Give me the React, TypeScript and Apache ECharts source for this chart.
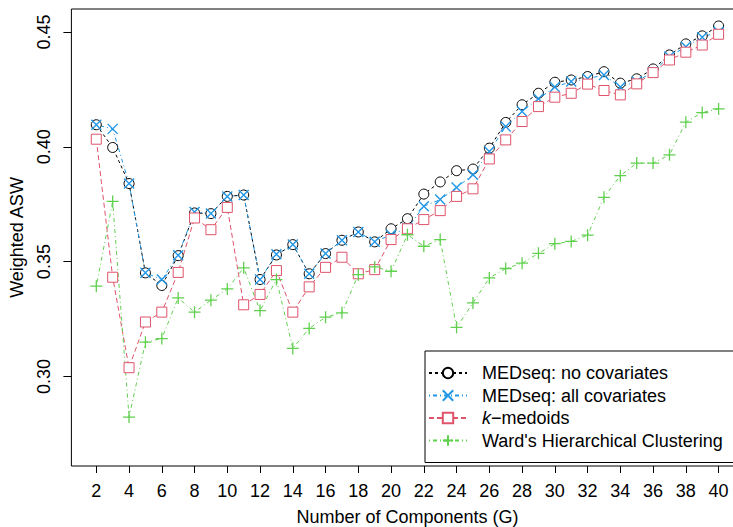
import React, { useEffect, useRef } from "react";
import * as echarts from "echarts";

// Number of components G
const components = [
  2, 3, 4, 5, 6, 7, 8, 9, 10, 11, 12, 13, 14, 15, 16, 17, 18, 19, 20, 21,
  22, 23, 24, 25, 26, 27, 28, 29, 30, 31, 32, 33, 34, 35, 36, 37, 38, 39, 40,
];
const xTicks = [2, 4, 6, 8, 10, 12, 14, 16, 18, 20, 22, 24, 26, 28, 30, 32, 34, 36, 38, 40];
const yTicks = [0.3, 0.35, 0.4, 0.45];

const seriesNames = [
  "MEDseq: no covariates",
  "MEDseq: all covariates",
  "k\u2212medoids",
  "Ward's Hierarchical Clustering",
];

const noCovariates = [
  0.4096, 0.3997, 0.384, 0.3451, 0.3396, 0.3526, 0.3712, 0.3709, 0.3784,
  0.379, 0.3422, 0.3529, 0.3574, 0.3447, 0.3535, 0.3593, 0.3629, 0.3586, 0.3643,
  0.3687, 0.3794, 0.3847, 0.3896, 0.3903, 0.3994, 0.4106, 0.4183, 0.4233, 0.4281,
  0.4291, 0.4306, 0.4327, 0.4277, 0.4296, 0.4339, 0.44, 0.4448, 0.4483, 0.4526,
];
const allCovariates = [
  0.4096, 0.4078, 0.384, 0.3451, 0.3422, 0.3528, 0.3716, 0.3709, 0.3784,
  0.379, 0.3422, 0.3532, 0.3574, 0.3447, 0.3535, 0.3593, 0.3629, 0.3586, 0.3617,
  0.3646, 0.3741, 0.377, 0.3823, 0.3878, 0.398, 0.4088, 0.4154, 0.4209, 0.426,
  0.4284, 0.4296, 0.4313, 0.426, 0.4284, 0.4327, 0.4393, 0.4436, 0.4477, 0.4501,
];
const kMedoids = [
  0.4033, 0.3432, 0.3038, 0.3237, 0.328, 0.3453, 0.369, 0.3639, 0.3736,
  0.3312, 0.3357, 0.3461, 0.328, 0.339, 0.3475, 0.3519, 0.3447, 0.3465, 0.3596,
  0.3643, 0.3683, 0.3722, 0.3784, 0.3817, 0.3947, 0.403, 0.411, 0.4175, 0.4216,
  0.4233, 0.4273, 0.4245, 0.4226, 0.4274, 0.4323, 0.4378, 0.4412, 0.4443, 0.449,
];
const ward = [
  0.3393, 0.3762, 0.2823, 0.3149, 0.3165, 0.3342, 0.328, 0.3332, 0.3381,
  0.3473, 0.3287, 0.3422, 0.3122, 0.3209, 0.3258, 0.3277, 0.3443, 0.3477, 0.3458,
  0.3617, 0.3567, 0.3596, 0.3214, 0.332, 0.3429, 0.347, 0.3493, 0.3536, 0.3578,
  0.3588, 0.3615, 0.378, 0.3874, 0.3929, 0.3929, 0.3965, 0.4107, 0.4149, 0.4165,
];

const FONT = "'Liberation Sans', Arial, Helvetica, sans-serif";

export default function App() {
  const ref = useRef<HTMLDivElement>(null);

  useEffect(() => {
    if (!ref.current) return;
    const chart = echarts.init(ref.current, null, { renderer: "svg" });

    const mk = (
      name: string,
      values: number[],
      color: string,
      symbol: string,
      symbolSize: number,
      dash: number[],
      fill: string,
      strokeWidth: number
    ) => ({
      name,
      type: "line",
      data: components.map((g, i) => [g, values[i]]),
      symbol,
      symbolSize,
      showSymbol: true,
      lineStyle: { color, width: 1, type: dash },
      itemStyle: { color: fill, borderColor: color, borderWidth: strokeWidth },
      emphasis: { disabled: true },
      z: 3,
    });

    const xPath = "path://M0,0L10,10M0,10L10,0";
    const plusPath = "path://M5,0L5,10M0,5L10,5";

    chart.setOption({
      animation: false,
      backgroundColor: "#ffffff",
      textStyle: { fontFamily: FONT },
      grid: {
        left: 71.4,
        top: 9,
        width: 672.1,
        height: 457,
        show: true,
        borderColor: "#000000",
        borderWidth: 1,
        backgroundColor: "transparent",
        containLabel: false,
        outerBoundsMode: "none",
      },
      xAxis: {
        type: "value",
        min: 0.48,
        max: 41.52,
        name: "Number of Components (G)",
        nameLocation: "middle",
        nameGap: 42,
        nameTextStyle: { fontSize: 18, color: "#000", fontFamily: FONT },
        axisLine: { show: false },
        splitLine: { show: false },
        axisTick: {
          show: true,
          inside: false,
          length: 7,
          lineStyle: { color: "#000", width: 1 },
          customValues: xTicks,
        },
        axisLabel: {
          show: true,
          margin: 16,
          fontSize: 18,
          color: "#000",
          fontFamily: FONT,
          customValues: xTicks,
          formatter: (v: number) => String(v),
        },
      },
      yAxis: {
        type: "value",
        min: 0.261,
        max: 0.46,
        name: "Weighted ASW",
        nameLocation: "middle",
        nameRotate: 90,
        nameGap: 45,
        nameTextStyle: { fontSize: 18, color: "#000", fontFamily: FONT },
        axisLine: { show: false },
        splitLine: { show: false },
        axisTick: {
          show: true,
          inside: false,
          length: 8,
          lineStyle: { color: "#000", width: 1 },
          customValues: yTicks,
        },
        axisLabel: {
          show: true,
          rotate: 90,
          margin: 18,
          fontSize: 18,
          color: "#000",
          fontFamily: FONT,
          customValues: yTicks,
          formatter: (v: number) => v.toFixed(2),
        },
      },
      legend: {
        orient: "vertical",
        left: 425,
        top: 351,
        data: seriesNames,
        backgroundColor: "#ffffff",
        borderColor: "#000000",
        borderWidth: 1,
        borderRadius: 0,
        padding: [13, 20, 13, 3],
        itemWidth: 38,
        itemHeight: 13,
        itemGap: 4.5,
        selectedMode: false,
        formatter: (name: string) =>
          name === seriesNames[2] ? "{i|k}{n|\u2212medoids}" : name,
        textStyle: {
          fontSize: 18,
          lineHeight: 18,
          color: "#000",
          fontFamily: FONT,
          padding: [0, 0, 0, 10],
          rich: {
            i: { fontStyle: "italic", fontSize: 18, lineHeight: 18, color: "#000", fontFamily: FONT },
            n: { fontSize: 18, lineHeight: 18, color: "#000", fontFamily: FONT },
          },
        },
        z: 10,
      },
      series: [
        mk(seriesNames[0], noCovariates, "#000000", "circle", 10, [3, 3], "#ffffff", 1),
        mk(seriesNames[1], allCovariates, "#2297E6", xPath, 10, [1, 3, 4, 3], "rgba(0,0,0,0)", 1.4),
        mk(seriesNames[2], kMedoids, "#DF536B", "rect", 10, [5, 3], "#ffffff", 1),
        mk(seriesNames[3], ward, "#61D04F", plusPath, 12, [1, 3, 4, 3], "rgba(0,0,0,0)", 1.3),
      ],
    });

    return () => chart.dispose();
  }, []);

  return (
    <div
      ref={ref}
      style={{ position: "fixed", left: 0, top: 0, width: 733, height: 527 }}
    />
  );
}
